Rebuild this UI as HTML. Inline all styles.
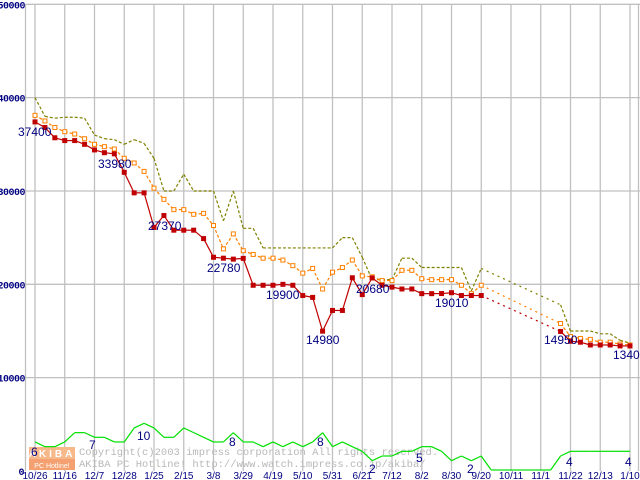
<!DOCTYPE html>
<html><head><meta charset="utf-8"><style>
html,body{margin:0;padding:0;background:#fff;}
svg{display:block;font-family:"Liberation Sans",sans-serif;}
</style></head><body>
<svg id="chart" width="640" height="480" viewBox="0 0 640 480">
<g id="grid"></g>
<g id="wm">
<rect x="29" y="447" width="46" height="12" fill="#f7b88a"/>
<rect x="29" y="459" width="46" height="11" fill="#f4a070"/>
<text x="52" y="457" font-size="10" font-weight="bold" fill="#fff" text-anchor="middle" letter-spacing="3">AKIBA</text>
<text x="52" y="468" font-size="7" fill="#fff" text-anchor="middle">PC Hotline!</text>
<text x="79" y="455" font-size="10.5" fill="#b8b8b8" font-family="Liberation Mono,monospace">Copyright(c)2003 impress corporation All rights reserved.</text>
<text x="79" y="467" font-size="10.5" fill="#b8b8b8" font-family="Liberation Mono,monospace">AKIBA PC Hotline!  http://www.watch.impress.co.jp/akiba/</text>
</g>
<g id="series"></g>
<g id="labels"></g>
</svg>
<script>
const xTickLabels = ["10/26","11/16","12/7","12/28","1/25","2/15","3/8","3/29","4/19","5/10","5/31","6/21","7/12","8/2","8/30","9/20","10/11","11/1","11/22","12/13","1/10"];
const yTicks = [0,10000,20000,30000,40000,50000];
const N = null;
const minPrice = [37400,36800,35700,35400,35400,35000,34400,34100,33980,32000,29800,29800,26100,27370,25800,25800,25800,24900,22900,22800,22700,22780,19900,19900,19900,20000,19900,18800,18600,14980,17200,17200,20700,18900,20680,19900,19700,19500,19500,19000,19000,19010,19100,18800,18800,18800,N,N,N,N,N,N,N,14950,13900,13800,13500,13500,13500,13400,13400];
const avgPrice = [38100,37500,36800,36350,36100,35600,35000,34750,34500,33500,33000,32100,30300,29100,28000,28000,27500,27600,26300,23800,25400,23600,23200,22800,22800,22600,22000,21200,21700,19500,21300,21800,22600,20900,20800,20400,20400,21500,21500,20600,20500,20500,20500,19900,19000,19900,N,N,N,N,N,N,N,15800,14400,14200,14100,13800,13800,13600,13500];
const maxPrice = [40000,38000,37800,37900,37900,37800,36000,35600,35500,35000,35500,35100,33500,30000,30000,31800,30000,30000,30000,26800,30000,26000,26000,23900,23900,23900,23900,23900,23900,23900,23900,25000,25000,22900,20500,20500,20500,22800,22800,21800,21800,21800,21800,21800,19300,21700,N,N,N,N,N,N,N,17800,15000,15000,15000,14700,14700,14000,13700];
const shopCount = [6,5,5,6,8,8,7,7,6,6,9,10,9,7,7,9,8,7,6,6,8,6,6,5,6,5,6,5,6,8,5,6,5,4,2,3,3,4,4,5,5,4,2,3,2,3,0,0,0,0,0,0,0,3,4,4,4,4,4,4,4];
const priceLabels = [[0,"37400",18,136],[8,"33980",98,168],[13,"27370",148,230],[21,"22780",207,272],[24,"19900",266,299],[29,"14980",306,344],[34,"20680",356,293],[41,"19010",435,307],[53,"14950",544,344],[60,"13400",613,359]];
const countLabels = [[0,"6",31,456],[6,"7",89,449],[11,"10",137,440],[20,"8",229,446],[29,"8",317,446],[34,"2",369,473],[39,"5",416,462],[44,"2",467,473],[54,"4",566,466],[60,"4",625,466]];

const NS="http://www.w3.org/2000/svg";
const X0=35, X1=630, Y0=471, YTOP=4.3;
function xs(i){return X0+(X1-X0)*i/(minPrice.length-1);}
function ys(v){return Y0-(Y0-YTOP)*v/50000;}
function yc(c){return 470-c*4.67;}
function mk(tag,attrs,parent){const e=document.createElementNS(NS,tag);for(const k in attrs)e.setAttribute(k,attrs[k]);parent.appendChild(e);return e;}
const grid=document.getElementById('grid'), ser=document.getElementById('series'), lab=document.getElementById('labels');

yTicks.forEach(v=>{
  const y=ys(v);
  if(v>0){const l=mk('line',{x1:26,x2:640,y1:y,y2:y,stroke:'#c0c0c0','stroke-width':1.3},grid);
  
  }
  const t=mk('text',{x:v===0?24:25,y:y+4,'font-size':10,'font-weight':'bold',fill:'#000080','text-anchor':'end','font-family':'Liberation Mono,monospace','letter-spacing':'-0.5'},grid);
  t.textContent=String(v);
  
  
});
const ax=mk('line',{x1:25.5,x2:25.5,y1:4,y2:471,stroke:'#c0c0c0','stroke-width':1.3},grid);


const rl=mk('line',{x1:638.5,x2:638.5,y1:4,y2:471,stroke:'#c0c0c0','stroke-width':1.3},grid);


xTickLabels.forEach((s,k)=>{
  const x=xs(k*3);
  const l=mk('line',{x1:x,x2:x,y1:4,y2:471,stroke:'#c0c0c0','stroke-width':1.3},grid);
  
  
  const t=mk('text',{x:x,y:479,'font-size':10,fill:'#000080','text-anchor':'middle'},grid);
  t.textContent=s;
  
  
});

function drawSeries(arr,fy,color,dash,name){
  for(let i=0;i<arr.length-1;i++){
    if(arr[i]===null)continue;
    let j=i+1;while(j<arr.length&&arr[j]===null)j++;
    if(j>=arr.length)break;
    const gap=j>i+1;
    const a={x1:xs(i),y1:fy(arr[i]),x2:xs(j),y2:fy(arr[j]),stroke:color,'stroke-width':1.2};
    const d=gap?'2,4':dash; if(d)a['stroke-dasharray']=d;
    const l=mk('line',a,ser);
    
    
  }
}
drawSeries(shopCount,yc,'#00e000',null,'shop-count');
drawSeries(maxPrice,ys,'#808000','3,2','max-price');
drawSeries(avgPrice,ys,'#ff8000','3,2','avg-price');
drawSeries(minPrice,ys,'#c00000',null,'min-price');
avgPrice.forEach((v,i)=>{ if(v===null)return;
  const r=mk('rect',{x:xs(i)-2,y:ys(v)-2,width:4,height:4,fill:'#fff',stroke:'#ff8000','stroke-width':1},ser);
  
  
});
minPrice.forEach((v,i)=>{ if(v===null)return;
  const r=mk('rect',{x:xs(i)-2.5,y:ys(v)-2.5,width:5,height:5,fill:'#c00000'},ser);
  
  
});
priceLabels.forEach(p=>{
  const t=mk('text',{x:p[2],y:p[3],'font-size':12,fill:'#000080'},lab);
  t.textContent=p[1];
  
  
});
countLabels.forEach(p=>{
  const t=mk('text',{x:p[2],y:p[3],'font-size':12,fill:'#000080'},lab);
  t.textContent=p[1];
  
  
});
</script>
</body></html>
